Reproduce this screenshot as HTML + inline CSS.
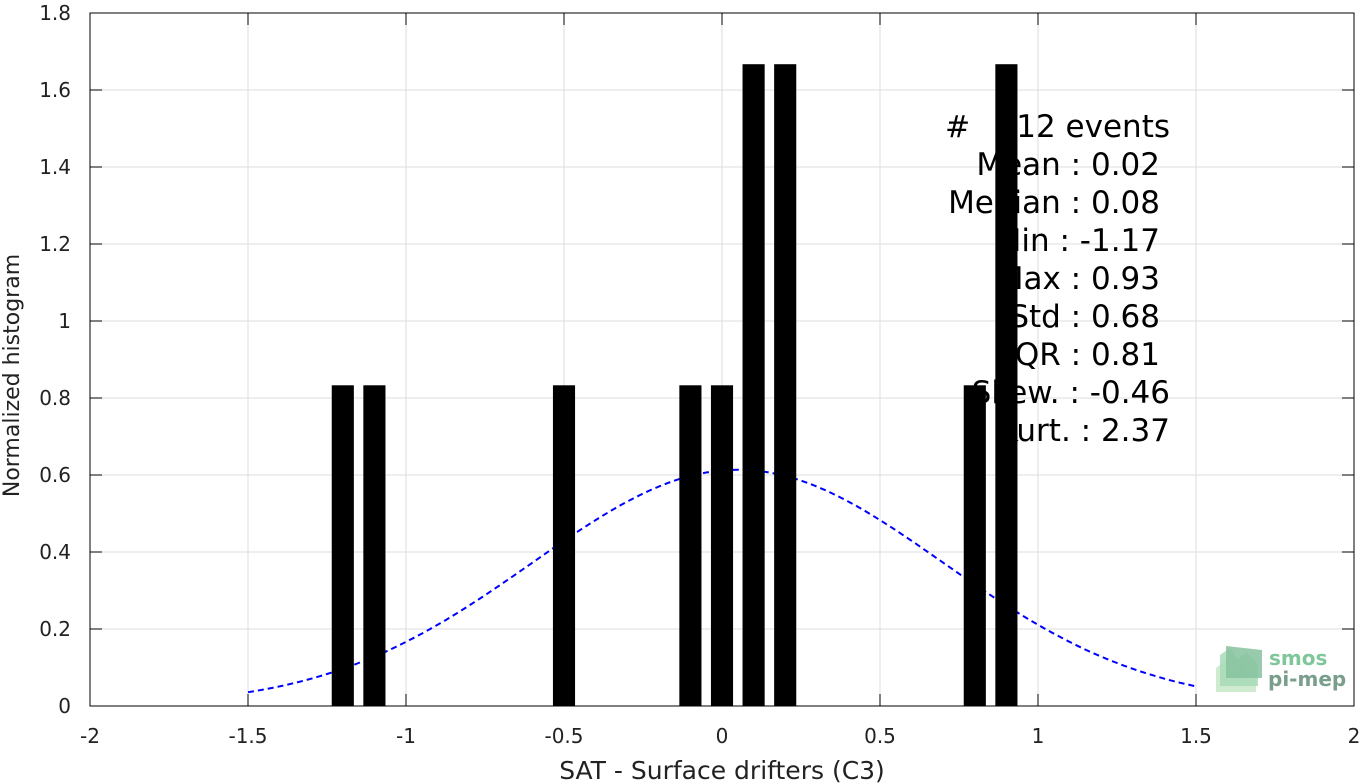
<!DOCTYPE html>
<html><head><meta charset="utf-8"><style>
body{margin:0;background:#fff;}
svg{display:block;font-family:"DejaVu Sans","Liberation Sans",sans-serif;}
</style></head><body>
<svg id="chart" width="1366" height="784">
<g id="grid"></g>
<g id="curve"></g>
<g id="stats"></g>
<g id="bars"></g>
<g id="axes"></g>
<g>
<polygon points="1216,692 1216,668 1226,660 1234,672 1242,664 1250,676 1256,670 1256,692" fill="#cfeacf"/>
<polygon points="1220,686 1220,655 1230,648 1238,660 1246,652 1258,664 1258,686" fill="#a8dab8" opacity="0.85"/>
<polygon points="1226,678 1226,646 1262,650 1262,678" fill="#86c29e" opacity="0.85"/>
<text x="1269" y="665" font-size="20" font-weight="bold" fill="#7fc79b">smos</text>
<text x="1268" y="686" font-size="20" font-weight="bold" fill="#7a9e8c">pi-mep</text>
</g>
</svg>
<script>
const binCenters=[-1.2,-1.1,-0.5,-0.1,0,0.1,0.2,0.8,0.9];
const binValues=[0.833,0.833,0.833,0.833,0.833,1.667,1.667,0.833,1.667];
const xTicks=[-2,-1.5,-1,-0.5,0,0.5,1,1.5,2];
const xTickLabels=["-2","-1.5","-1","-0.5","0","0.5","1","1.5","2"];
const yTicks=[0,0.2,0.4,0.6,0.8,1,1.2,1.4,1.6,1.8];
const yTickLabels=["0","0.2","0.4","0.6","0.8","1","1.2","1.4","1.6","1.8"];
const fitMean=[0.05];
const fitStd=[0.65];
const fitRange=[-1.5,1.5];
const statLines=["12 events","Mean : 0.02","Median : 0.08","Min : -1.17","Max : 0.93","Std : 0.68","IQR : 0.81","Skew. : -0.46","Kurt. : 2.37"];
const statEnds=[1170,1160,1160,1160,1160,1160,1160,1170,1170];

const L=90,R=1354,T=13,B=706;
const sx=v=>L+(v+2)/4*(R-L);
const sy=v=>B-v/1.8*(B-T);
const NS="http://www.w3.org/2000/svg";
function mk(tag,attrs,parent){const e=document.createElementNS(NS,tag);for(const k in attrs)e.setAttribute(k,attrs[k]);parent.appendChild(e);return e;}
const grid=document.getElementById('grid'),axes=document.getElementById('axes'),bars=document.getElementById('bars');
xTicks.forEach((t,i)=>{
  const x=sx(t);
  const g=mk('line',{x1:x,x2:x,y1:T,y2:B,stroke:'#dedede','stroke-width':1},grid);
  
  
  mk('line',{x1:x,x2:x,y1:B,y2:B-12,stroke:'#000'},axes);
  mk('line',{x1:x,x2:x,y1:T,y2:T+12,stroke:'#000'},axes);
  const tx=mk('text',{x:x,y:B+37,'font-size':20,'text-anchor':'middle',fill:'#222'},axes);
  tx.textContent=xTickLabels[i];
  
  
});
yTicks.forEach((t,i)=>{
  const y=sy(t);
  const g=mk('line',{x1:L,x2:R,y1:y,y2:y,stroke:'#dedede','stroke-width':1},grid);
  
  
  mk('line',{x1:L,x2:L+12,y1:y,y2:y,stroke:'#000'},axes);
  mk('line',{x1:R,x2:R-12,y1:y,y2:y,stroke:'#000'},axes);
  const tx=mk('text',{x:L-19,y:y+7,'font-size':20,'text-anchor':'end',fill:'#222'},axes);
  tx.textContent=yTickLabels[i];
  
  
});
const box=mk('rect',{x:L,y:T,width:R-L,height:B-T,fill:'none',stroke:'#000','stroke-width':1},axes);


const xl=mk('text',{x:(L+R)/2,y:779,'font-size':25,'text-anchor':'middle',fill:'#222'},axes);
xl.textContent='SAT - Surface drifters (C3)';


const yl=mk('text',{x:0,y:0,'font-size':22,'text-anchor':'middle',fill:'#222',transform:`translate(19,${(T+B)/2+16}) rotate(-90)`},axes);
yl.textContent='Normalized histogram';


const bw=0.07;
binCenters.forEach((c,i)=>{
  const r=mk('rect',{x:sx(c-bw/2),y:sy(binValues[i]),width:sx(c+bw/2)-sx(c-bw/2),height:B-sy(binValues[i]),fill:'#000'},bars);
  
  
});
let pts=[];
const mu=fitMean[0],sd=fitStd[0];
for(let k=0;k<=120;k++){const v=fitRange[0]+(fitRange[1]-fitRange[0])*k/120;const d=Math.exp(-((v-mu)**2)/(2*sd*sd))/(sd*Math.sqrt(2*Math.PI));pts.push(sx(v).toFixed(1)+','+sy(d).toFixed(1));}
const pl=mk('polyline',{points:pts.join(' '),fill:'none',stroke:'#0000ff','stroke-width':2,'stroke-dasharray':'6,4'},document.getElementById('curve'));


const stats=document.getElementById('stats');
const hash=mk('text',{x:945,y:137,'font-size':30,fill:'#000'},stats);
hash.textContent='#';


statLines.forEach((s,i)=>{
  const t=mk('text',{x:statEnds[i],y:137+i*38,'font-size':31,'text-anchor':'end',fill:'#000'},stats);
  t.textContent=s;
  
  
});
</script>
</body></html>
